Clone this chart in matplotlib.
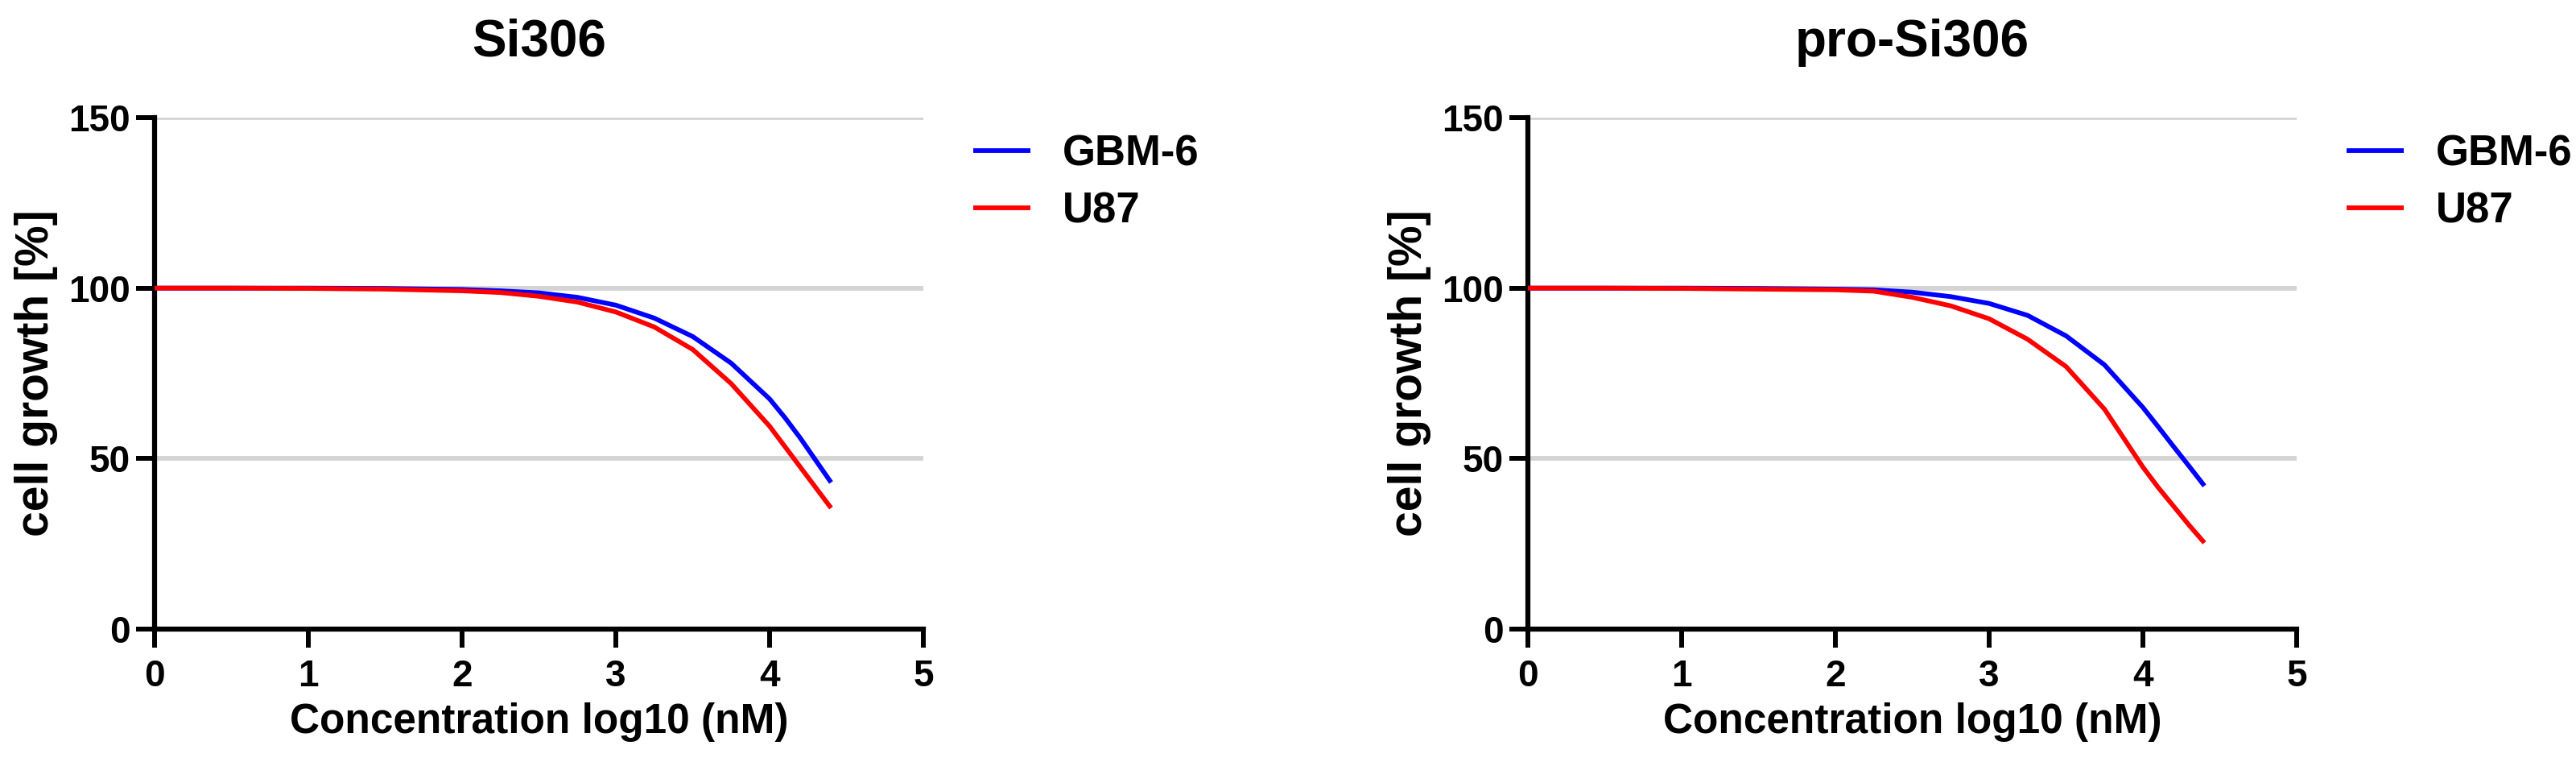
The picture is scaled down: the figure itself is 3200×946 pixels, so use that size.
import matplotlib
matplotlib.use("Agg")
import matplotlib.pyplot as plt

plt.rcParams['font.family'] = ['Liberation Sans', 'DejaVu Sans']
plt.rcParams['font.weight'] = 'bold'

conc = [0, 0.5, 1, 1.5, 2, 2.25, 2.5, 2.75, 3, 3.25, 3.5, 3.75, 4, 4.1, 4.2, 4.3, 4.4]

# Si306 panel
si306_gbm6 = [100, 100, 100, 99.9, 99.6, 99.2, 98.6, 97.3, 95.0, 91.2, 85.8, 78.0, 67.5, 62.0, 56.0, 49.5, 43.0]
si306_u87 = [100, 100, 99.9, 99.7, 99.2, 98.7, 97.6, 95.9, 93.0, 88.6, 82.0, 72.0, 59.5, 53.5, 47.5, 41.5, 35.5]

# pro-Si306 panel
pro_gbm6 = [100, 100, 100, 99.9, 99.7, 99.5, 98.8, 97.5, 95.5, 92.0, 86.0, 77.5, 65.0, 59.3, 53.5, 47.8, 42.0]
pro_u87 = [100, 100, 99.9, 99.7, 99.5, 99.1, 97.3, 94.8, 91.0, 85.0, 77.0, 64.5, 47.5, 41.5, 36.0, 30.5, 25.3]

panels = ['Si306', 'pro-Si306']
series_names = ['GBM-6', 'U87']
series_colors = ['#0000ff', '#ff0000']
x_ticks = [0, 1, 2, 3, 4, 5]
y_ticks = [0, 50, 100, 150]

W, H = 3200, 946
fig = plt.figure(figsize=(W / 100, H / 100), dpi=100)

# axes boxes in pixels: left, bottom (y of zero line), width, height
boxes = [(192, 781, 955, 635), (1898, 781, 955, 635)]
data = [(si306_gbm6, si306_u87), (pro_gbm6, pro_u87)]

for title, (l, b, w, h), curves in zip(panels, boxes, data):
    ax = fig.add_axes([l / W, 1 - b / H, w / W, h / H])

    for name, color, vals in zip(series_names, series_colors, curves):
        ax.plot(conc, vals, color=color, lw=4.2, label=name,
                solid_capstyle='butt', solid_joinstyle='round', zorder=3)

    ax.set_xlim(0, 5)
    ax.set_ylim(0, 150)
    ax.set_xticks(x_ticks)
    ax.set_yticks(y_ticks)
    ax.yaxis.grid(True, color='#d4d4d4', lw=4.2)
    ax.set_axisbelow(True)

    for side in ['top', 'right']:
        ax.spines[side].set_visible(False)
    for side in ['left', 'bottom']:
        ax.spines[side].set_linewidth(4.5)

    ax.tick_params(axis='both', direction='out', length=16.5, width=4.3)
    ax.tick_params(axis='y', labelsize=33, pad=5)
    ax.tick_params(axis='x', labelsize=33, pad=10)
    for lab in ax.get_xticklabels() + ax.get_yticklabels():
        lab.set_fontweight('bold')

    ax.set_title(title, fontsize=46, fontweight='bold', pad=55)
    ax.set_xlabel('Concentration log10 (nM)', fontsize=37, fontweight='bold', va='center')
    ax.xaxis.set_label_coords(0.5, -0.182)
    ax.set_ylabel('cell growth [%]', fontsize=41, fontweight='bold', va='center')
    ax.yaxis.set_label_coords(-0.154, 0.5)

    ax.legend(loc='upper left', bbox_to_anchor=(1.065, 0.968), frameon=False,
              prop={'size': 38, 'weight': 'bold'}, handlelength=1.34,
              handletextpad=0.75, labelspacing=0.4, borderpad=0, borderaxespad=0)

fig.savefig('out.png', dpi=100, facecolor='white')
